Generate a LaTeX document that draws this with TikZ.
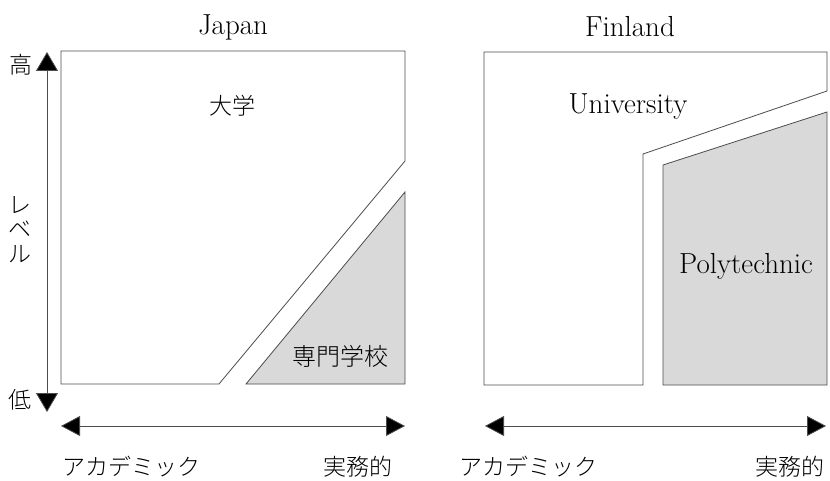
\documentclass[tikz,border=0pt]{standalone}
\usepackage{fontspec}
\newfontfamily\jp[UprightFont=* Light]{Noto Sans CJK JP}
\usetikzlibrary{arrows.meta}
\begin{document}
\begin{tikzpicture}[x=1pt,y=-1pt,
  region/.style={draw=black!70,line width=0.8pt},
  voc/.style={region,fill=black!15},
  axis/.style={draw=black!70,line width=0.8pt,{Triangle[length=19pt,width=22pt,fill=black]}-{Triangle[length=19pt,width=22pt,fill=black]}},
  haxis/.style={draw=black!70,line width=0.8pt,{Triangle[length=19pt,width=20pt,fill=black]}-{Triangle[length=19pt,width=20pt,fill=black]}},
  lat/.style={font=\fontsize{29}{33}\selectfont,inner sep=0pt},
  jpt/.style={font=\jp\fontsize{23}{27}\selectfont,inner sep=0pt}]
\useasboundingbox (0,0) rectangle (830,481);
% Japan
\draw[region] (61,51) -- (405,51) -- (405,161) -- (219,384) -- (61,384) -- cycle;
\draw[voc] (246,384) -- (405,384) -- (405,192) -- cycle;
\node[lat] (jtitle) at (233,27) {Japan};
\node[jpt] (univj) at (232,106) {大学};
\node[jpt,font=\jp\fontsize{24}{28}\selectfont] (senmon) at (340,356) {専門学校};
% Finland
\draw[region] (484,52) -- (827,52) -- (827,91) -- (643,154) -- (643,385) -- (484,385) -- cycle;
\draw[voc] (663,165) -- (827,112) -- (827,385) -- (663,385) -- cycle;
\node[lat] (ftitle) at (630,27) {Finland};
\node[lat] (univf) at (628,107) {University};
\node[lat] (poly) at (746,266) {Polytechnic};
% vertical axis
\coordinate (vtop) at (47,52);
\coordinate (vbot) at (47,412);
\draw[axis] (vbot) -- (vtop);
\node[jpt] (high) at (21,65) {高};
\node[jpt] (low) at (20,400) {低};
\node[jpt] (l1) at (20,205) {レ};
\node[jpt] (l2) at (20,229) {ベ};
\node[jpt] (l3) at (20,254) {ル};
% horizontal axes
\coordinate (ja) at (61,426);
\coordinate (jb) at (405,426);
\draw[haxis] (ja) -- (jb);
\coordinate (fa) at (485,426);
\coordinate (fb) at (826,426);
\draw[haxis] (fa) -- (fb);
\node[jpt] (ac1) at (131,467) {アカデミック};
\node[jpt] (pr1) at (358,467) {実務的};
\node[jpt] (ac2) at (528,467) {アカデミック};
\node[jpt] (pr2) at (790,467) {実務的};
\end{tikzpicture}
\end{document}
